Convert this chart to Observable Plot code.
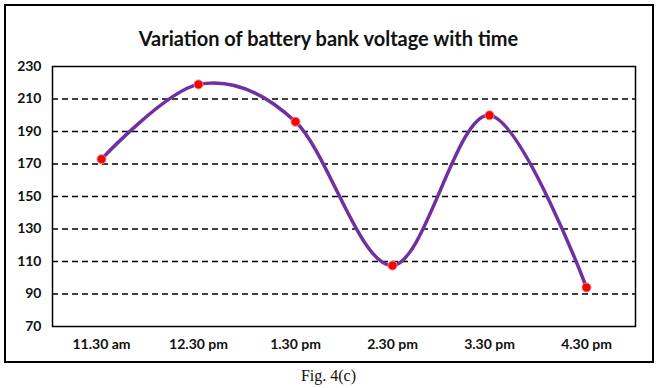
<!DOCTYPE html>
<html>
<head>
<meta charset="utf-8">
<script src="https://cdn.jsdelivr.net/npm/d3@7"></script>
<script src="https://cdn.jsdelivr.net/npm/@observablehq/plot@0.6"></script>
<style>
  body { margin: 0; background: #fff; }
  #wrap { position: relative; width: 657px; height: 388px; overflow: hidden; }
  #box { position: absolute; left: 4px; top: 4px; width: 646px; height: 355px; border: 2px solid #000; }
  #title { position: absolute; top: 26px; left: 0; width: 657px; text-align: center;
    font-family: Lato, "Open Sans", sans-serif; font-weight: bold; font-size: 20px; color: #111; }
  #plot { position: absolute; left: 0; top: 0; }
  #caption { position: absolute; top: 367px; left: 0; width: 657px; text-align: center;
    font-family: "Liberation Serif", "DejaVu Serif", serif; font-size: 16px; color: #111; }
</style>
</head>
<body>
<div id="wrap">
  <div id="box"></div>
  <div id="title">Variation of battery bank voltage with time</div>
  <div id="plot"></div>
  <div id="caption">Fig. 4(c)</div>
</div>
<script>
const times = ["11.30 am", "12.30 pm", "1.30 pm", "2.30 pm", "3.30 pm", "4.30 pm"];
const voltages = [173, 219, 196, 107.5, 200, 94];
const yTicks = [70, 90, 110, 130, 150, 170, 190, 210, 230];
const gridValues = [90, 110, 130, 150, 170, 190, 210];

const data = times.map((t, i) => ({time: t, voltage: voltages[i]}));

const chart = Plot.plot({
  width: 657,
  height: 362,
  marginLeft: 52,
  marginRight: 22,
  marginTop: 66,
  marginBottom: 36,
  style: {fontFamily: "Lato, 'Open Sans', sans-serif", fontSize: "14px", fontWeight: "bold", color: "#111", background: "transparent"},
  x: {type: "point", domain: times, padding: 0.5, label: null},
  y: {domain: [70, 230], label: null},
  marks: [
    Plot.ruleY(gridValues, {stroke: "#000", strokeWidth: 1.3, strokeDasharray: "6,4"}),
    Plot.frame({stroke: "#000", strokeWidth: 1.5}),
    Plot.axisY({ticks: yTicks, tickSize: 0, tickPadding: 11, label: null, fontWeight: "bold", fontSize: 14}),
    Plot.axisX({tickSize: 0, tickPadding: 13, label: null, fontWeight: "bold", fontSize: 14}),
    Plot.line(data, {x: "time", y: "voltage", curve: "cardinal", tension: 0, stroke: "#7030A0", strokeWidth: 3.5}),
    Plot.dot(data, {x: "time", y: "voltage", r: 4.5, fill: "#ff0000", stroke: "#f08080", strokeWidth: 1})
  ]
});
document.getElementById("plot").appendChild(chart);
</script>
</body>
</html>
